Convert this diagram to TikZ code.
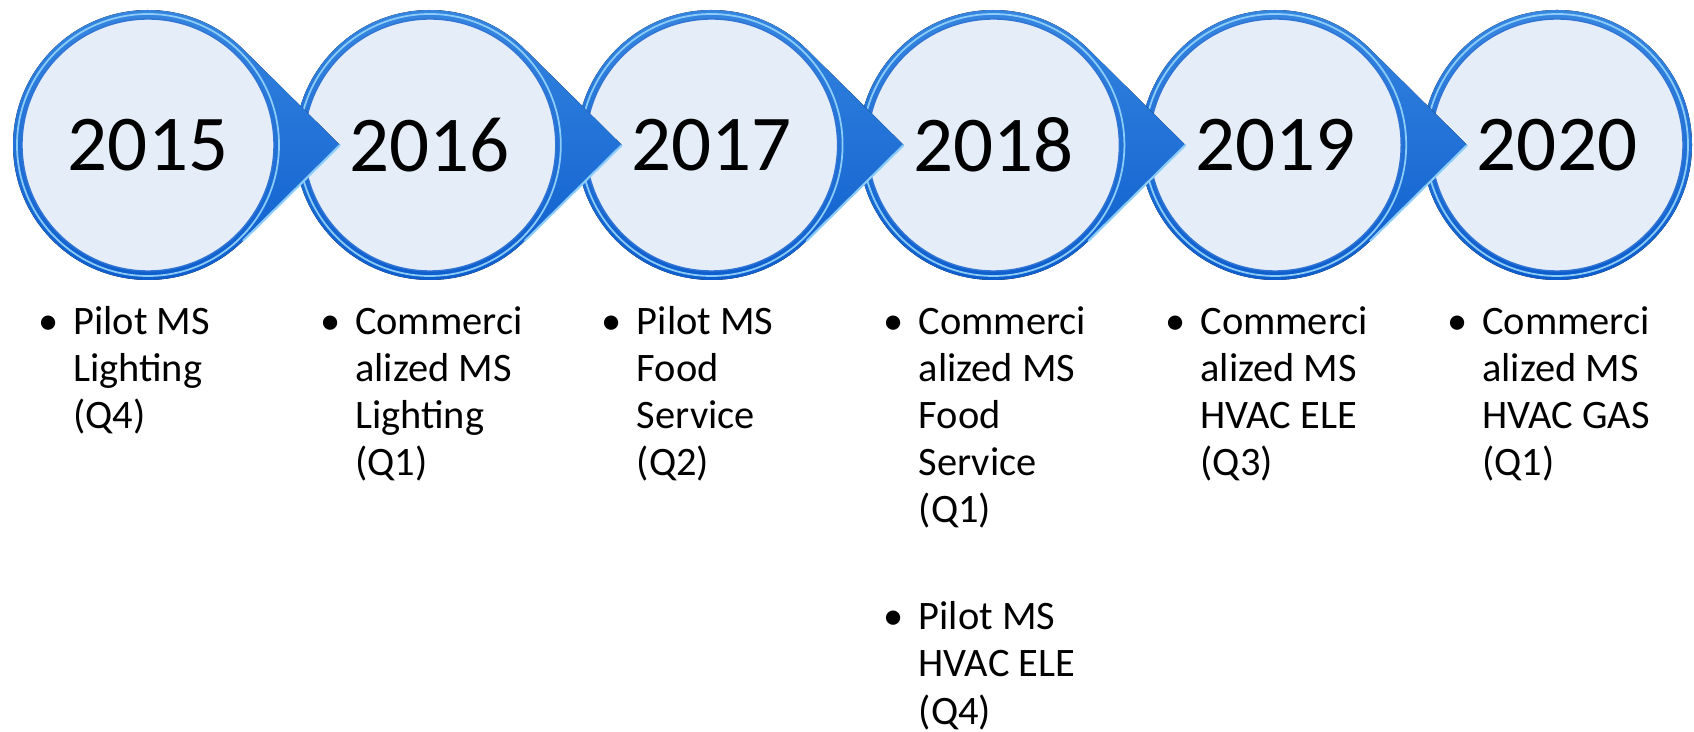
\documentclass[tikz,border=0pt]{standalone}
\usepackage{fontspec}
\setmainfont{Carlito}
\usetikzlibrary{positioning}

\definecolor{ringtop}{RGB}{55,135,225}
\definecolor{ringbot}{RGB}{12,92,205}
\definecolor{ringlight}{RGB}{140,205,248}
\definecolor{discfill}{RGB}{228,237,248}

\newcommand{\bul}{\makebox[0.7cm][l]{•}}
\newcommand{\ind}{\hspace*{0.7cm}}

\tikzset{
    year/.style={circle, minimum size=5.04cm, inner sep=0pt, fill=discfill,
        draw=ringbot!85, line width=0.8pt, font=\fontsize{45}{52}\selectfont},
    item/.style={anchor=north west, inner sep=0pt, align=left,
        font=\fontsize{23}{26.75}\selectfont},
    drop/.style={top color=ringtop, bottom color=ringbot}
}

\begin{document}
\begin{tikzpicture}
\useasboundingbox (0,0) rectangle (33.88,14.64);

% circles, drawn right to left so each pointer lies on the next circle
\foreach \i/\yr in {5/2020,4/2019,3/2018,2/2017,1/2016,0/2015}{
    \begin{scope}[shift={(2.96+5.636*\i,11.74)}]
        \ifnum\i<5
            \fill[drop] (45.3:2.7) arc[start angle=45.3, end angle=314.7, radius=2.7]
                -- (3.84,0) -- cycle;
            \draw[ringlight, line width=1.2pt] (-45.3:2.7) -- (3.84,0);
        \else
            \fill[drop] (0,0) circle[radius=2.7];
        \fi
        \draw[ringlight, line width=1pt] (0,0) circle[radius=2.62];
        \node[year] (y\yr) at (0,0) {\yr};
    \end{scope}
}

% milestones
\node[item] (t2015) at ([xshift=-2.2cm,yshift=-0.6cm]y2015.south)
    {\begin{tabular}{@{}l@{}}\bul Pilot MS\\ \ind Lighting\\ \ind (Q4)\end{tabular}};
\node[item] (t2016) at ([xshift=-2.2cm,yshift=-0.6cm]y2016.south)
    {\begin{tabular}{@{}l@{}}\bul Commerci\\ \ind alized MS\\ \ind Lighting\\ \ind (Q1)\end{tabular}};
\node[item] (t2017) at ([xshift=-2.2cm,yshift=-0.6cm]y2017.south)
    {\begin{tabular}{@{}l@{}}\bul Pilot MS\\ \ind Food\\ \ind Service\\ \ind (Q2)\end{tabular}};
\node[item] (t2018) at ([xshift=-2.2cm,yshift=-0.6cm]y2018.south)
    {\begin{tabular}{@{}l@{}}\bul Commerci\\ \ind alized MS\\ \ind Food\\ \ind Service\\ \ind (Q1)\\[1.2cm]
     \bul Pilot MS\\ \ind HVAC ELE\\ \ind (Q4)\end{tabular}};
\node[item] (t2019) at ([xshift=-2.2cm,yshift=-0.6cm]y2019.south)
    {\begin{tabular}{@{}l@{}}\bul Commerci\\ \ind alized MS\\ \ind HVAC ELE\\ \ind (Q3)\end{tabular}};
\node[item] (t2020) at ([xshift=-2.2cm,yshift=-0.6cm]y2020.south)
    {\begin{tabular}{@{}l@{}}\bul Commerci\\ \ind alized MS\\ \ind HVAC GAS\\ \ind (Q1)\end{tabular}};
\end{tikzpicture}
\end{document}
